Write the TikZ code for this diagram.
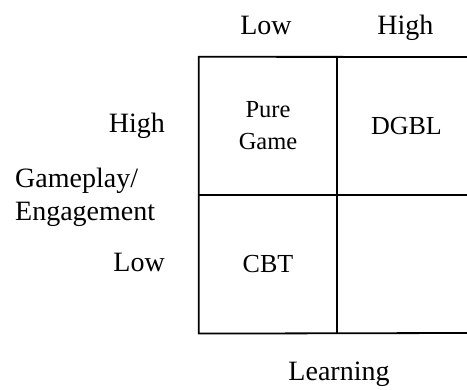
\documentclass[tikz,border=0pt]{standalone}
\usepackage{fontspec}
\setmainfont{Liberation Serif}
\usepackage{tikz}
\usetikzlibrary{positioning, calc}
\tikzset{
  cellbox/.style={rectangle, minimum width=138pt, minimum height=138pt, inner sep=0pt, align=center, font=\fontsize{26}{32}\selectfont},
  axislabel/.style={inner sep=0pt, font=\fontsize{28}{33}\selectfont},
  gridline/.style={line width=1.8pt, line cap=rect},
}
\begin{document}
\begin{tikzpicture}[x=1pt, y=1pt]
  \useasboundingbox (0,0) rectangle (467,390);

  % Cells
  \node[cellbox, font=\fontsize{24.5}{32}\selectfont] (pure) at (268,264) {Pure\\Game};
  \node[cellbox, right=0pt of pure] (dgbl) {DGBL};
  \node[cellbox, below=0pt of pure] (cbt) {CBT};

  % Right edge of the picture
  \coordinate (edgetop) at (467,333);
  \coordinate (edgebot) at (467,57);

  % Grid
  \draw[gridline] (edgetop) -- (pure.north west) -- (cbt.south west) -- (edgebot);
  \draw[gridline] (pure.north east) -- (cbt.south east);
  \draw[gridline] (pure.south west) -- (pure.south west -| edgetop);

  % Learning axis
  \node[axislabel, anchor=base] (learnlow) at ($(pure.north)+(-2,22)$) {Low};
  \node[axislabel, anchor=base] (learnhigh) at ($(dgbl.north)+(-1,22)$) {High};
  \node[axislabel, anchor=base] (learning) at (339,9) {Learning};

  % Gameplay axis
  \node[axislabel, anchor=base east] (gamehigh) at (165,257) {High};
  \node[axislabel, anchor=base east] (gamelow) at (165,118) {Low};
  \node[axislabel, anchor=west, align=left] (gameplay) at (15,193) {Gameplay/\\Engagement};
\end{tikzpicture}
\end{document}
